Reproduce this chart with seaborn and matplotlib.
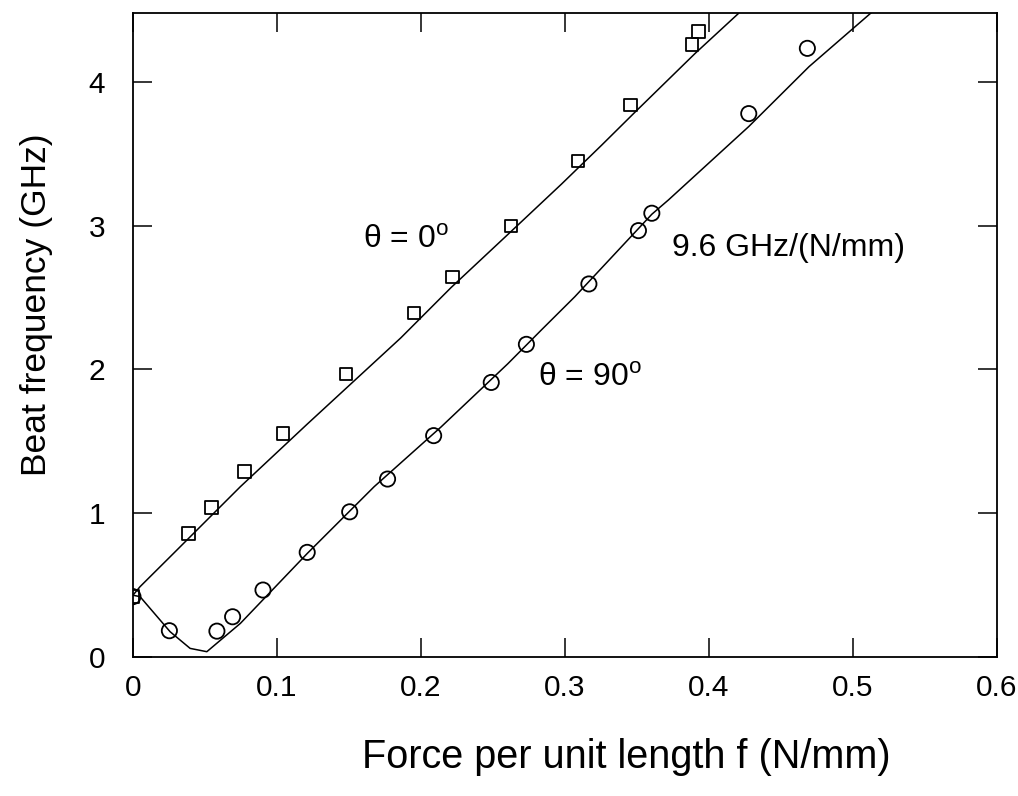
import matplotlib
matplotlib.use("Agg")
import matplotlib.pyplot as plt
import seaborn as sns

# measured points, theta = 0 deg (squares)
f_sq = [0.0, 0.0385, 0.0544, 0.0776, 0.1043, 0.148, 0.1953, 0.222, 0.2627, 0.309, 0.3456, 0.388, 0.3928]
b_sq = [0.42, 0.86, 1.04, 1.29, 1.556, 1.97, 2.395, 2.645, 3.0, 3.45, 3.84, 4.26, 4.35]

# measured points, theta = 90 deg (circles)
f_ci = [0.0, 0.0253, 0.0583, 0.0692, 0.0903, 0.121, 0.1505, 0.1768, 0.2088, 0.2488, 0.2732,
        0.3166, 0.351, 0.3603, 0.4276, 0.4683]
b_ci = [0.42, 0.183, 0.18, 0.28, 0.466, 0.728, 1.01, 1.238, 1.54, 1.91, 2.175,
        2.595, 2.966, 3.087, 3.78, 4.234]

# fitted curves
f_fit0 = [0.0, 0.0049, 0.0281, 0.0746, 0.121, 0.186, 0.2209, 0.2604, 0.2976, 0.3254, 0.3486, 0.3905, 0.4206]
b_fit0 = [0.43, 0.489, 0.72, 1.185, 1.62, 2.22, 2.57, 2.94, 3.29, 3.56, 3.79, 4.20, 4.478]

f_fit90 = [0.0, 0.0049, 0.0258, 0.0397, 0.0513, 0.0746, 0.121, 0.1675, 0.2139, 0.2603, 0.2836,
           0.3068, 0.3603, 0.3719, 0.4276, 0.4695, 0.5136]
b_fit90 = [0.43, 0.42, 0.176, 0.06, 0.037, 0.234, 0.72, 1.185, 1.60, 2.04, 2.275,
           2.506, 3.08, 3.18, 3.69, 4.107, 4.49]

x_ticks = [0, 0.1, 0.2, 0.3, 0.4, 0.5, 0.6]
x_tick_labels = ["0", "0.1", "0.2", "0.3", "0.4", "0.5", "0.6"]
y_ticks = [0, 1, 2, 3, 4]
y_tick_labels = ["0", "1", "2", "3", "4"]

sns.set_theme(style="ticks")
plt.rcParams["font.family"] = ["Liberation Sans", "DejaVu Sans"]
plt.rcParams["mathtext.fontset"] = "custom"
plt.rcParams["mathtext.rm"] = "Liberation Sans"
plt.rcParams["text.color"] = "black"
plt.rcParams["axes.labelcolor"] = "black"

fig = plt.figure(figsize=(10.18, 7.96), dpi=100)
ax = fig.add_axes([0.1306, 0.1746, 0.8488, 0.8091])

lw = 1.1
sns.lineplot(x=f_fit0, y=b_fit0, ax=ax, color="black", linewidth=lw, sort=False)
sns.lineplot(x=f_fit90, y=b_fit90, ax=ax, color="black", linewidth=lw, sort=False)
sns.scatterplot(x=f_sq, y=b_sq, ax=ax, marker="s", s=80, facecolor="none",
                edgecolor="black", linewidth=1.3, zorder=3)
sns.scatterplot(x=f_ci, y=b_ci, ax=ax, marker="o", s=120, facecolor="none",
                edgecolor="black", linewidth=1.3, zorder=3)

ax.set_xlim(0, 0.6)
ax.set_ylim(0, 4.48)
ax.set_xticks(x_ticks)
ax.set_xticklabels(x_tick_labels)
ax.set_yticks(y_ticks)
ax.set_yticklabels(y_tick_labels)
ax.tick_params(direction="in", length=14, width=1.1, labelsize=21.5, colors="black",
               top=True, right=True)
ax.tick_params(axis="x", pad=12)
ax.tick_params(axis="y", pad=20)
for sp in ax.spines.values():
    sp.set_visible(True)
    sp.set_linewidth(1.3)
    sp.set_color("black")

ax.set_xlabel("Force per unit length f (N/mm)", fontsize=28.5)
ax.set_ylabel("Beat frequency (GHz)", fontsize=25.5)
ax.xaxis.set_label_coords(0.571, -0.126)
ax.yaxis.set_label_coords(-0.092, 0.547)

ax.text(0.160, 2.9, r"θ = 0$^{\mathrm{o}}$", fontsize=23, va="center", ha="left")
ax.text(0.2815, 1.94, r"θ = 90$^{\mathrm{o}}$", fontsize=23, va="center", ha="left")
ax.text(0.374, 2.845, "9.6 GHz/(N/mm)", fontsize=23, va="center", ha="left")

fig.savefig("out.png", dpi=100)
